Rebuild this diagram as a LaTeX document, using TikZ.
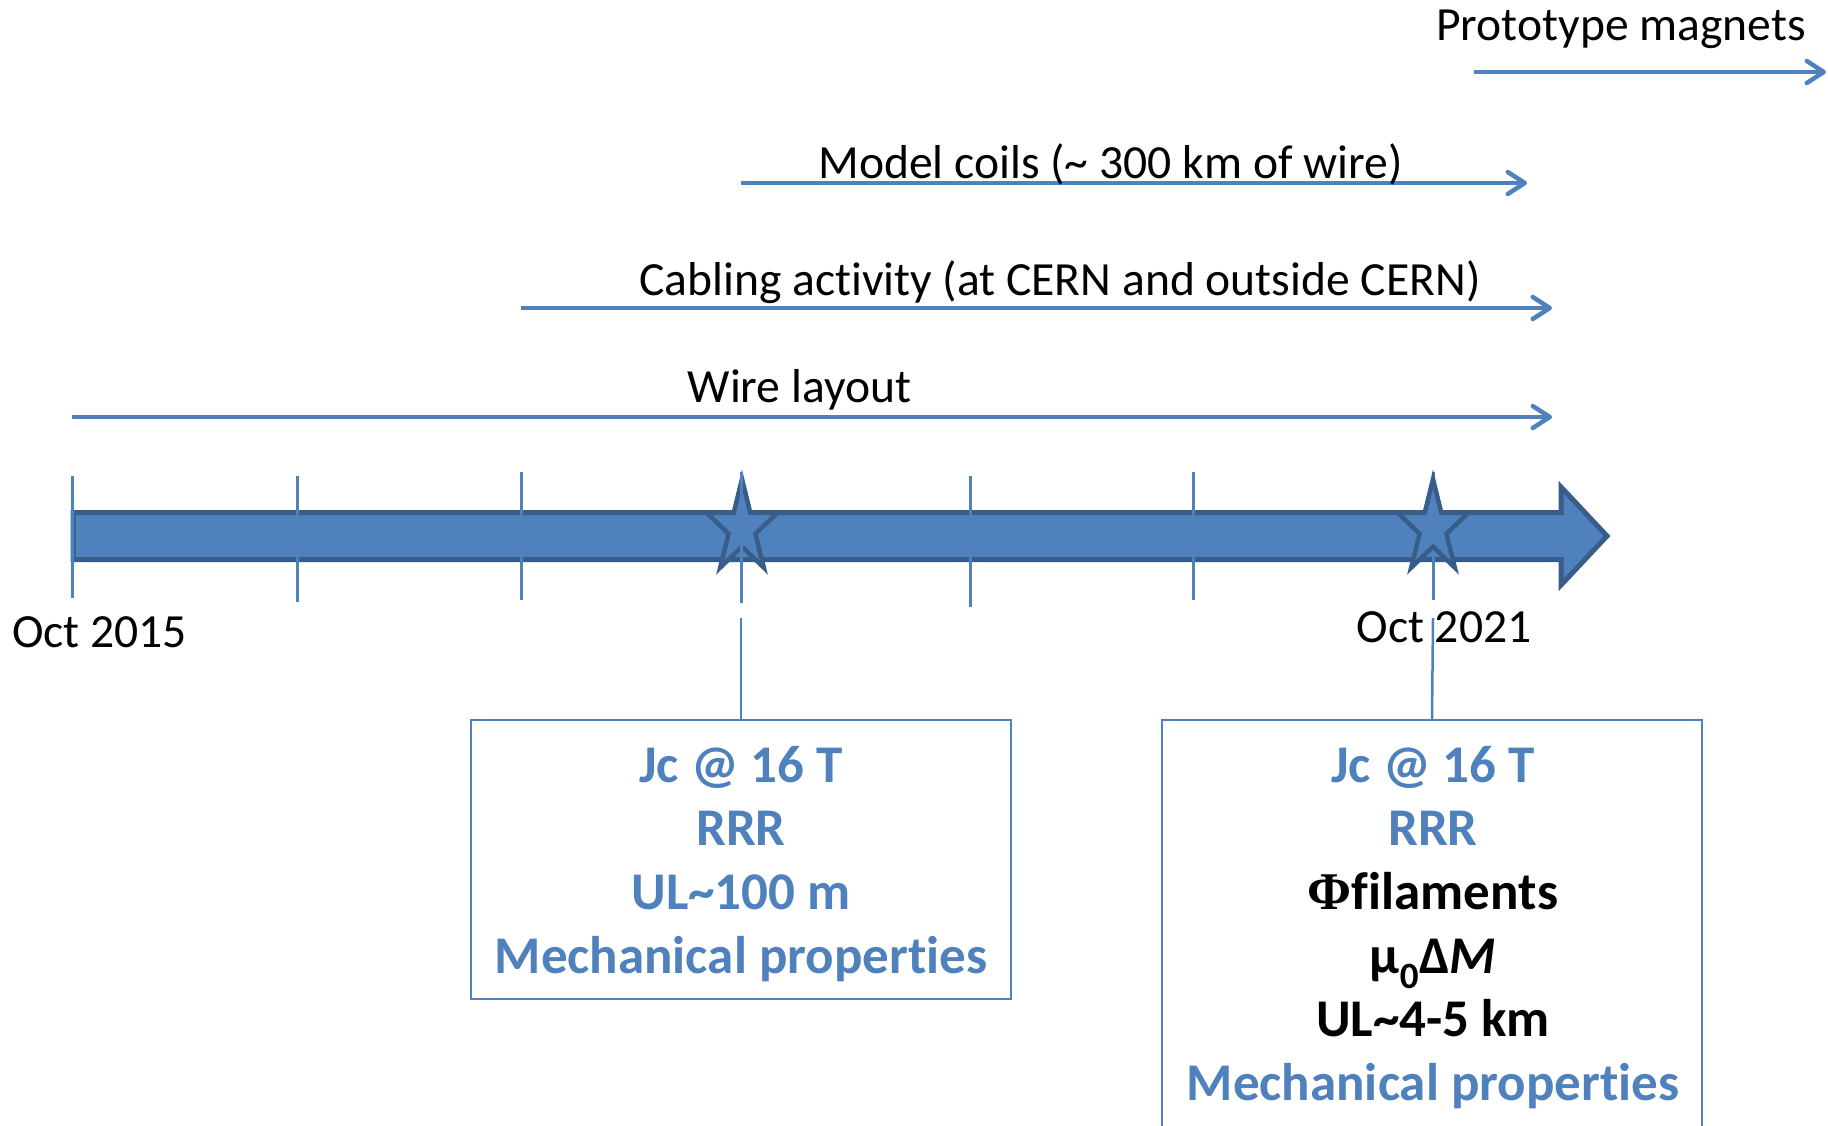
\documentclass[tikz,border=0pt]{standalone}
\usepackage{fontspec}
\setmainfont{Carlito}[Ligatures=NoCommon]
\newfontfamily\phifont{Liberation Serif}
\usetikzlibrary{arrows.meta,calc}
\definecolor{accent}{HTML}{4F81BD}
\definecolor{accentdark}{HTML}{385D8A}
\tikzset{
  lbl/.style={anchor=base, inner sep=0pt, font=\fontsize{47.6}{57}\selectfont, text=black},
  boxtxt/.style={anchor=base, inner sep=0pt, font=\bfseries\fontsize{53}{63}\selectfont, text=accent},
  boxdark/.style={boxtxt, text=black},
  span/.style={draw=accent, line width=4.5pt, -{Straight Barb[length=17pt,width=22pt,round]}},
  tickline/.style={draw=accent, line width=3pt},
  link/.style={draw=accent, line width=2.5pt},
  infobox/.style={draw=accent, line width=2.2pt, rectangle, inner sep=0pt},
  milestone/.style={fill=accent, draw=accentdark, line width=4.5pt, line join=miter},
  timeline/.style={fill=accent, draw=accentdark, line width=5pt, line join=miter},
}
% five-pointed star outline, centred on the origin (y grows downwards)
\newcommand{\starpath}{(0,-49) -- (8.3,-15.1) -- (35.2,-15.1) -- (13.4,5.8) -- (21.8,39.6)
  -- (0,18.7) -- (-21.8,39.6) -- (-13.4,5.8) -- (-35.2,-15.1) -- (-8.3,-15.1) -- cycle}
\begin{document}
\begin{tikzpicture}[x=1pt,y=-1pt]
\useasboundingbox (0,0) rectangle (1828,1125);
\clip (0,0) rectangle (1828,1125);

% activity spans with their labels
\coordinate (pm0) at (1474,72);  \coordinate (pm1) at (1826,72);
\coordinate (mc0) at (741,183);  \coordinate (mc1) at (1527,183);
\coordinate (cb0) at (521,308);  \coordinate (cb1) at (1552,308);
\coordinate (wl0) at (72,417);   \coordinate (wl1) at (1552,417);
\draw[span] (pm0) -- (pm1);
\draw[span] (mc0) -- (mc1);
\draw[span] (cb0) -- (cb1);
\draw[span] (wl0) -- (wl1);
\node[lbl] (pmlbl) at (1621,40) {Prototype magnets};
\node[lbl] (mclbl) at (1110.5,178) {Model coils (\textasciitilde{} 300 km of wire)};
\node[lbl] (cblbl) at (1060,295) {Cabling activity (at CERN and outside CERN)};
\node[lbl] (wllbl) at (799.5,402) {Wire layout};

% time axis
\draw[timeline] (73,512.5) -- (1561,512.5) -- (1561,487) -- (1607,536)
  -- (1561,585) -- (1561,559.5) -- (73,559.5) -- cycle;

\coordinate (s1) at (742,528);
\coordinate (s2) at (1433,528);
\draw[milestone, shift={(s1)}] \starpath;

\foreach \n/\x/\a/\b in {0/72/476/598, 1/297/476/602, 2/521/472/600,
                         3/741/472/603, 4/970/476/607, 5/1193/472/600, 6/1433/472/600}
  {\coordinate (tt\n) at (\x,\a); \coordinate (tb\n) at (\x,\b);
   \draw[tickline] (tt\n) -- (tb\n);}

\draw[milestone, shift={(s2)}] \starpath;

\node[lbl] (oct15) at (99.5,647) {Oct 2015};
\node[lbl] (oct21) at (1444,642) {Oct 2021};

% milestone requirement boxes
\node[infobox, minimum width=540pt, minimum height=279pt] (box1) at (741,859.5) {};
\node[infobox, minimum width=540pt, minimum height=440pt] (box2) at (1432,940) {};
\coordinate (c1) at (741,618);
\coordinate (c2) at (1433,618);
\draw[link] (c1) -- (box1.north);
\draw[link] (c2) -- (box2.north);

\node[boxtxt] (b1a) at (741,782) {Jc @ 16 T};
\node[boxtxt] (b1b) at (741,845.7) {RRR};
\node[boxtxt] (b1c) at (741,909.4) {UL\textasciitilde100 m};
\node[boxtxt] (b1d) at (741,973.1) {Mechanical properties};

\node[boxtxt]  (b2a) at (1433,782) {Jc @ 16 T};
\node[boxtxt]  (b2b) at (1433,845.7) {RRR};
\node[boxdark] (b2c) at (1433,909.4) {{\phifont\bfseries Φ}filaments};
\node[boxdark] (b2d) at (1433,973.1) {μ\textsubscript{0}Δ\textit{M}};
\node[boxdark] (b2e) at (1433,1036.8) {UL\textasciitilde4-5 km};
\node[boxtxt]  (b2f) at (1433,1100.5) {Mechanical properties};
\end{tikzpicture}
\end{document}
